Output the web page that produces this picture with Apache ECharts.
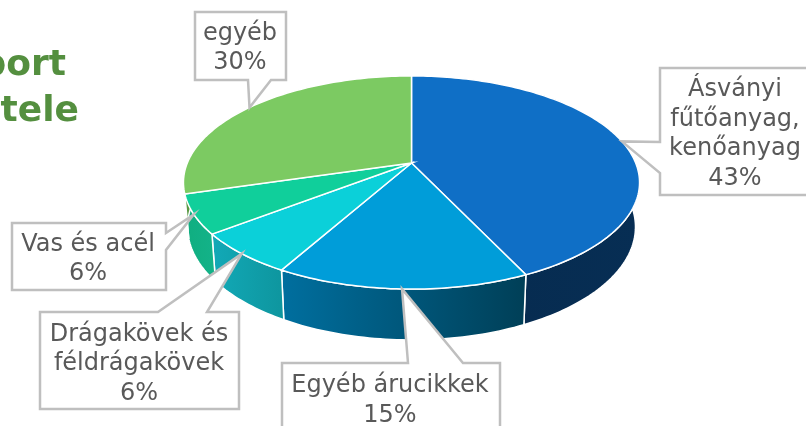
<!DOCTYPE html>
<html>
<head>
<meta charset="utf-8">
<style>html,body{margin:0;padding:0;background:#fff}#c{width:806px;height:426px}</style>
<script src="https://cdn.jsdelivr.net/npm/echarts@6/dist/echarts.min.js"></script>
</head>
<body>
<div id="c"></div>
<script>
// Data
const categories = ['Ásványi\nfűtőanyag,\nkenőanyag', 'Egyéb árucikkek', 'Drágakövek és\nféldrágakövek', 'Vas és acél', 'egyéb'];
const values = [43, 15.1, 6.4, 5.9, 29.6];
const titleLines = ['port', 'tele'];

// Styles
const topColors = ['#0f6fc6', '#009dd9', '#0bd0d9', '#10cf9b', '#7cca62'];
const wallLeft = ['#062a4e', '#006f9f', '#12a9b7', '#10ae80', '#5a9a45'];
const wallRight = ['#072e54', '#003f57', '#0e969f', '#13b288', '#5a9a45'];

// Projection of the pie: a tilted circle seen in perspective
const K = 0.183;
const topRim = {cx: 411.5, cy: 163, a: 224.2, b: 103};
const baseRim = {cx: 411.5, cy: 206.3, a: 220.2, b: 109.2};
function project(rim, share) {
  const t = share / 100 * 2 * Math.PI;
  const u = Math.sin(t), v = -Math.cos(t), w = 1 - K * v;
  return [rim.cx + rim.a * u / w, rim.cy + rim.b * v / w];
}
function arc(rim, from, to) {
  const n = Math.max(2, Math.ceil((to - from) * 3)), pts = [];
  for (let i = 0; i <= n; i++) pts.push(project(rim, from + (to - from) * i / n));
  return pts;
}
const total = values.reduce((a, b) => a + b, 0);
function span(i) {
  let s = 0;
  for (let j = 0; j < i; j++) s += values[j];
  return [s / total * 100, (s + values[i]) / total * 100];
}

// Callout boxes: [left, top, right, bottom], tail base on side
const boxes = [
  {r: [660, 68, 812, 195], side: 'left', t: [142, 173], tx: 735, ty: 134.5},
  {r: [282, 363, 500, 434], side: 'top', t: [408, 463], tx: 390, ty: 401},
  {r: [40, 312, 239, 409], side: 'top', t: [158, 207], tx: 139, ty: 364},
  {r: [12, 223, 166, 290], side: 'right', t: [233, 250], tx: 88, ty: 259.5},
  {r: [195, 12, 286, 80], side: 'bottom', t: [248, 271], tx: 240, ty: 48.5}
];
function calloutPath(b, tip) {
  const [l, t, r, o] = b.r, [p, q] = b.t;
  const pts = [[l, t]];
  if (b.side === 'top') pts.push([p, t], tip, [q, t]);
  pts.push([r, t]);
  if (b.side === 'right') pts.push([r, p], tip, [r, q]);
  pts.push([r, o]);
  if (b.side === 'bottom') pts.push([q, o], tip, [p, o]);
  pts.push([l, o]);
  if (b.side === 'left') pts.push([l, q], tip, [l, p]);
  return pts;
}

const seriesData = values.map((v, i) => ({name: categories[i], value: v}));

const option = {
  animation: false,
  backgroundColor: '#ffffff',
  graphic: titleLines.map((s, i) => ({
    type: 'text', z: 1,
    style: {
      text: s, x: i === 0 ? 66 : 79, y: i === 0 ? 66 : 112,
      align: 'right', verticalAlign: 'middle',
      font: 'bold 36px "DejaVu Sans"', fill: '#548f3f'
    }
  })),
  series: [
    {
      type: 'custom', coordinateSystem: 'none', data: seriesData, z: 2,
      renderItem(p, api) {
        const i = p.dataIndex, [a, b] = span(i);
        const front = arc(topRim, a, b), back = arc(baseRim, a, b).reverse();
        const xs = front.map(q => q[0]);
        return {
          type: 'polygon',
          shape: {points: front.concat(back)},
          style: {
            fill: {
              type: 'linear', global: true,
              x: Math.min(...xs), y: 0, x2: Math.max(...xs), y2: 0,
              colorStops: [{offset: 0, color: wallLeft[i]}, {offset: 1, color: wallRight[i]}]
            },
            stroke: '#ffffff', lineWidth: 1.5
          }
        };
      }
    },
    {
      type: 'custom', coordinateSystem: 'none', data: seriesData, z: 3,
      renderItem(p, api) {
        const i = p.dataIndex, [a, b] = span(i);
        return {
          type: 'polygon',
          shape: {points: [[topRim.cx, topRim.cy]].concat(arc(topRim, a, b))},
          style: {fill: topColors[i], stroke: '#ffffff', lineWidth: 1.5}
        };
      }
    },
    {
      type: 'custom', coordinateSystem: 'none', data: seriesData, z: 4,
      renderItem(p, api) {
        const i = p.dataIndex, [a, b] = span(i), box = boxes[i];
        const tip = project(topRim, (a + b) / 2);
        return {
          type: 'group',
          children: [
            {
              type: 'polygon',
              shape: {points: calloutPath(box, tip)},
              style: {fill: '#ffffff', stroke: '#bfbfbf', lineWidth: 2.5}
            },
            {
              type: 'text',
              style: {
                text: categories[i] + '\n' + Math.round(api.value(1)) + '%',
                x: box.tx, y: box.ty, align: 'center', verticalAlign: 'middle',
                font: '24px "DejaVu Sans"', lineHeight: 29.5, fill: '#595959'
              }
            }
          ]
        };
      },
      encode: {value: 1}
    }
  ]
};
const chart = echarts.init(document.getElementById('c'), null, {renderer: 'canvas', width: 806, height: 426});
chart.setOption(option);
</script>
</body>
</html>
